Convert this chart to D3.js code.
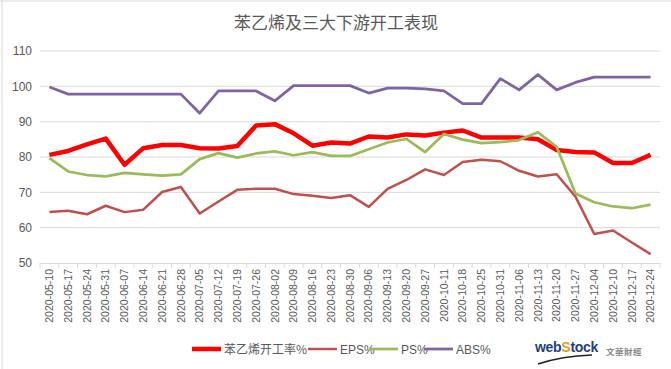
<!DOCTYPE html>
<html>
<head>
<meta charset="utf-8">
<script src="https://cdn.jsdelivr.net/npm/d3@7"></script>
<style>
body { margin: 0; background: #fff; }
text { font-family: "Liberation Sans", Arial, sans-serif; }
</style>
</head>
<body>
<svg id="chart" width="671" height="369"></svg>
<script>
// categories
var dates = ["2020-05-10","2020-05-17","2020-05-24","2020-05-31","2020-06-07","2020-06-14","2020-06-21","2020-06-28",
  "2020-07-05","2020-07-12","2020-07-19","2020-07-26","2020-08-02","2020-08-09","2020-08-16","2020-08-23","2020-08-30",
  "2020-09-06","2020-09-13","2020-09-20","2020-09-27","2020-10-11","2020-10-18","2020-10-25","2020-10-31","2020-11-06",
  "2020-11-13","2020-11-20","2020-11-27","2020-12-04","2020-12-10","2020-12-17","2020-12-24"];
// series
var styrene = [80.6,81.7,83.6,85.2,77.8,82.5,83.4,83.4,82.5,82.4,83.1,88.9,89.3,86.7,83.2,84.1,83.8,
  85.8,85.5,86.4,86.1,86.9,87.5,85.5,85.5,85.5,85.0,82.0,81.4,81.3,78.3,78.3,80.6];
var eps = [64.4,64.8,63.8,66.2,64.4,65.1,70.1,71.5,64.0,67.4,70.7,71.0,71.0,69.5,69.0,68.4,69.2,
  65.9,71.0,73.5,76.5,74.9,78.6,79.2,78.8,76.1,74.5,75.1,68.8,58.2,59.2,55.8,52.5];
var ps = [79.7,75.9,74.9,74.5,75.5,75.1,74.7,75.1,79.4,81.1,79.8,81.0,81.6,80.5,81.4,80.3,80.3,
  82.2,84.1,85.1,81.4,86.5,84.9,83.9,84.2,84.8,87.0,82.9,69.7,67.2,66.0,65.5,66.5];
var abs = [99.8,97.8,97.8,97.8,97.8,97.8,97.8,97.8,92.4,98.7,98.7,98.7,95.9,100.2,100.2,100.2,100.2,
  98.1,99.5,99.5,99.3,98.7,95.1,95.1,102.2,99.0,103.3,99.0,101.1,102.6,102.6,102.6,102.6];
var yTicks = [50,60,70,80,90,100,110];
var seriesNames = ["苯乙烯开工率%","EPS%","PS%","ABS%"];

var series = [
  {name: seriesNames[0], values: styrene, color: "#ff0000", width: 4.5},
  {name: seriesNames[1], values: eps, color: "#c0504d", width: 2.5},
  {name: seriesNames[2], values: ps, color: "#9bbb59", width: 2.75},
  {name: seriesNames[3], values: abs, color: "#8064a2", width: 2.75}
];

var svg = d3.select("#chart");
var grey = "#595959";

// outer border bits
svg.append("line").attr("x1",0).attr("x2",671).attr("y1",1).attr("y2",1).attr("stroke","#d9d9d9");
svg.append("line").attr("x1",2).attr("x2",2).attr("y1",0).attr("y2",369).attr("stroke","#d9d9d9");

svg.append("text")
  .attr("x", 336).attr("y", 29)
  .attr("text-anchor","middle")
  .style("font-family", "'Noto Sans CJK SC', sans-serif")
  .style("font-size","17px")
  .attr("fill", grey)
  .text("苯乙烯及三大下游开工表现");

var x = d3.scaleBand().domain(dates).range([40, 660]).padding(0);
var y = d3.scaleLinear().domain([50, 110]).range([263, 51]);

// gridlines
svg.append("g").selectAll("line").data(yTicks.slice(1)).enter().append("line")
  .attr("x1", 40).attr("x2", 660)
  .attr("y1", d => y(d)).attr("y2", d => y(d))
  .attr("stroke", "#d9d9d9").attr("stroke-width", 1);

// y axis labels
var yAxis = d3.axisLeft(y).tickValues(yTicks).tickSize(0).tickPadding(8);
var gy = svg.append("g").attr("transform","translate(40,0)").call(yAxis);
gy.select(".domain").remove();
gy.selectAll("text").style("font-size","12px").attr("fill", grey);

// x axis
var xAxis = d3.axisBottom(x).tickSize(0).tickPadding(6);
var gx = svg.append("g").attr("transform","translate(0,263)").call(xAxis);
gx.select(".domain").attr("stroke","#d9d9d9");
gx.selectAll("text")
  .style("font-size","10.5px").attr("fill", grey)
  .attr("transform","rotate(-90)")
  .attr("text-anchor","end")
  .attr("x", -6).attr("y", 0).attr("dy","0.35em");
// tick marks between categories
svg.append("g").selectAll("line").data(dates.concat(["end"])).enter().append("line")
  .attr("x1", (d,i) => 40 + i * x.step()).attr("x2", (d,i) => 40 + i * x.step())
  .attr("y1", 263).attr("y2", 268)
  .attr("stroke","#d9d9d9");

var line = d3.line()
  .x((d,i) => x(dates[i]) + x.bandwidth()/2)
  .y(d => y(d));

series.forEach(function(s){
  svg.append("path")
    .datum(s.values)
    .attr("d", line)
    .attr("fill","none")
    .attr("stroke", s.color)
    .attr("stroke-width", s.width)
    .attr("stroke-linejoin","round");
});

// legend
var legendX = [192, 308, 369, 424];
var legend = svg.append("g");
series.forEach(function(s, i){
  legend.append("line")
    .attr("x1", legendX[i]).attr("x2", legendX[i] + 29)
    .attr("y1", 349).attr("y2", 349)
    .attr("stroke", s.color).attr("stroke-width", s.width);
  legend.append("text")
    .attr("x", legendX[i] + 32).attr("y", 353.5)
    .style("font-family", i === 0 ? "'Noto Sans CJK SC', sans-serif" : "'Liberation Sans', sans-serif")
    .style("font-size","12px")
    .attr("fill", grey)
    .text(s.name);
});

// logo
var logo = svg.append("g");
var lt = logo.append("text").attr("x", 535).attr("y", 352)
  .style("font-size","14px").style("font-weight","bold")
  .style("letter-spacing","-0.3px");
lt.append("tspan").attr("fill","#1f3f7f").text("web");
lt.append("tspan").attr("fill","#e0a020").text("S");
lt.append("tspan").attr("fill","#1f3f7f").text("tock");
logo.append("path")
  .attr("d","M538,364 Q562,356 592,355")
  .attr("fill","none").attr("stroke","#222").attr("stroke-width",1.5);
logo.append("text").attr("x", 606).attr("y", 355)
  .style("font-family","'Noto Sans CJK TC', sans-serif")
  .style("font-size","8.5px").style("font-weight","bold").attr("fill","#888")
  .style("letter-spacing","0.5px")
  .text("文華財經");
</script>
</body>
</html>
